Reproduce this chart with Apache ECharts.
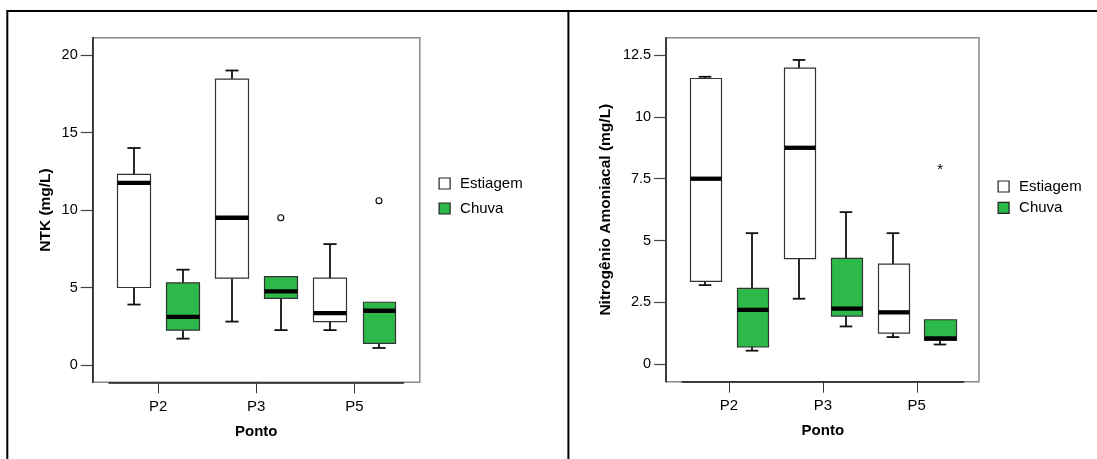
<!DOCTYPE html>
<html>
<head>
<meta charset="utf-8">
<script src="https://cdn.jsdelivr.net/npm/echarts@6/dist/echarts.min.js"></script>
<style>
html,body{margin:0;padding:0;background:#fff;}
#c{width:1097px;height:459px;}
</style>
</head>
<body>
<div id="c"></div>
<script>
// ---------------- data ----------------
const categories = ['P2', 'P3', 'P5'];
const seriesNames = ['Estiagem', 'Chuva'];
// each item: [min, Q1, median, Q3, max]
const ntkEstiagem = [[3.9, 5.0, 11.75, 12.3, 14.0], [2.8, 5.6, 9.5, 18.45, 19.0], [2.25, 2.8, 3.35, 5.6, 7.8]];
const ntkChuva = [[1.7, 2.25, 3.1, 5.3, 6.15], [2.25, 4.3, 4.75, 5.7, 5.7], [1.1, 1.4, 3.5, 4.05, 4.05]];
// outliers: [category index, value]
const ntkChuvaOutliers = [[1, 9.5], [2, 10.6]];
const amEstiagem = [[3.2, 3.35, 7.5, 11.55, 11.62], [2.65, 4.27, 8.75, 11.97, 12.3], [1.1, 1.26, 2.1, 4.05, 5.3]];
const amChuva = [[0.55, 0.7, 2.2, 3.07, 5.3], [1.53, 1.95, 2.25, 4.28, 6.15], [0.8, 0.97, 1.05, 1.8, 1.8]];
const amChuvaExtremes = [[2, 8.0]];
const ntkTicks = [0, 5, 10, 15, 20];
const amTicks = [0, 2.5, 5, 7.5, 10, 12.5];
const ntkTitle = 'NTK (mg/L)';
const amTitle = 'Nitrogênio Amoniacal (mg/L)';
const xTitle = 'Ponto';

// ---------------- style ----------------
const FONT = "'Liberation Sans', Arial, Helvetica, sans-serif";
const GREEN = '#2db84a';
const fills = ['#ffffff', GREEN];

function withIndex(arr) { return arr.map((d, i) => [i].concat(d)); }

function boxRenderer(side, fill) {
  return function (params, api) {
    const xi = api.value(0);
    const band = api.size([1, 0])[0];
    const cx = api.coord([xi, 0])[0] + side * 0.25 * band;
    const bw = 0.335 * band, cw = 0.4 * bw;
    const py = k => api.coord([xi, api.value(k)])[1];
    const yMin = py(1), yQ1 = py(2), yMed = py(3), yQ3 = py(4), yMax = py(5);
    const L = Math.round(cx - bw / 2) + 0.5, R = Math.round(cx + bw / 2) + 0.5;
    const X = Math.round(cx);
    const ws = { stroke: '#111', lineWidth: 1.8 };
    const ch = [];
    if (yMax < yQ3 - 0.5) {
      ch.push({ type: 'line', shape: { x1: X, y1: yMax, x2: X, y2: yQ3 }, style: ws });
      ch.push({ type: 'line', shape: { x1: X - cw / 2, y1: yMax, x2: X + cw / 2, y2: yMax }, style: ws });
    }
    if (yMin > yQ1 + 0.5) {
      ch.push({ type: 'line', shape: { x1: X, y1: yQ1, x2: X, y2: yMin }, style: ws });
      ch.push({ type: 'line', shape: { x1: X - cw / 2, y1: yMin, x2: X + cw / 2, y2: yMin }, style: ws });
    }
    ch.push({ type: 'rect', shape: { x: L, y: yQ3, width: R - L, height: yQ1 - yQ3 },
      style: { fill: fill, stroke: '#333', lineWidth: 1.2 } });
    ch.push({ type: 'line', shape: { x1: L, y1: yMed, x2: R, y2: yMed }, style: { stroke: '#000', lineWidth: 4.3 } });
    return { type: 'group', children: ch };
  };
}

function outlierRenderer(side, kind) {
  return function (params, api) {
    const xi = api.value(0);
    const band = api.size([1, 0])[0];
    const p = api.coord([xi, api.value(1)]);
    const cx = p[0] + side * 0.25 * band;
    if (kind === 'circle') {
      return { type: 'circle', shape: { cx: cx, cy: p[1], r: 3 }, style: { fill: '#fff', stroke: '#000', lineWidth: 1.1 } };
    }
    return { type: 'text', x: cx, y: p[1] + 4,
      style: { text: '*', fontSize: 15, fontFamily: FONT, fill: '#000', align: 'center', verticalAlign: 'middle' } };
  };
}

// layout of the two panels
const panels = [
  { frame: { left: 92.7, top: 37.7, width: 327.1, height: 344.6 },
    data: { left: 109, top: 55, width: 294.5, height: 310 },
    ticks: ntkTicks, title: ntkTitle, nameGap: 39,
    est: ntkEstiagem, chu: ntkChuva, out: ntkChuvaOutliers, outKind: 'circle' },
  { frame: { left: 666.1, top: 37.7, width: 312.9, height: 344 },
    data: { left: 682, top: 55, width: 281.7, height: 309.3 },
    ticks: amTicks, title: amTitle, nameGap: 52,
    est: amEstiagem, chu: amChuva, out: amChuvaExtremes, outKind: 'star' }
];

const grid = [], xAxis = [], yAxis = [], series = [];
panels.forEach((p, k) => {
  const fg = grid.length;
  grid.push(Object.assign({ show: true, borderColor: '#8a8a8a', borderWidth: 1.5, backgroundColor: '#fff' }, p.frame));
  xAxis.push({ gridIndex: fg, type: 'value', min: 0, max: 1, show: false });
  yAxis.push({ gridIndex: fg, type: 'value', min: 0, max: 1,
    axisLine: { show: true, onZero: false, lineStyle: { color: '#1a1a1a', width: 1.5 } },
    axisTick: { show: false }, axisLabel: { show: false }, splitLine: { show: false } });
  const dg = grid.length;
  grid.push(Object.assign({ show: false }, p.data));
  const tmin = p.ticks[0], tmax = p.ticks[p.ticks.length - 1], tint = p.ticks[1] - p.ticks[0];
  xAxis.push({ gridIndex: dg, type: 'category', data: categories, offset: p.frame.top + p.frame.height - p.data.top - p.data.height,
    axisLine: { show: true, onZero: false, lineStyle: { color: '#1a1a1a', width: 1.5 } },
    axisTick: { show: true, alignWithLabel: true, length: 11, lineStyle: { color: '#333', width: 1 } },
    axisLabel: { margin: 17, fontSize: 15, fontFamily: FONT, color: '#000' },
    splitLine: { show: false },
    name: xTitle, nameLocation: 'middle', nameGap: 42,
    nameTextStyle: { fontSize: 15, fontWeight: 'bold', fontFamily: FONT, color: '#000' } });
  yAxis.push({ gridIndex: dg, type: 'value', min: tmin, max: tmax, interval: tint,
    offset: p.data.left - p.frame.left,
    axisLine: { show: false, onZero: false },
    axisTick: { show: true, length: 12, lineStyle: { color: '#444', width: 1.2 } },
    axisLabel: { margin: 15, fontSize: 14.5, fontFamily: FONT, color: '#000' },
    splitLine: { show: false },
    name: p.title, nameLocation: 'middle', nameGap: p.nameGap,
    nameTextStyle: { fontSize: 15.5, fontWeight: 'bold', fontFamily: FONT, color: '#000' } });
  [p.est, p.chu].forEach((d, s) => {
    series.push({ type: 'custom', name: seriesNames[s], xAxisIndex: dg, yAxisIndex: dg,
      itemStyle: { color: fills[s] },
      renderItem: boxRenderer(s === 0 ? -1 : 1, fills[s]),
      encode: { x: 0, y: [1, 2, 3, 4, 5] },
      data: withIndex(d) });
  });
  series.push({ type: 'custom', name: 'Chuva outliers ' + k, xAxisIndex: dg, yAxisIndex: dg,
    renderItem: outlierRenderer(1, p.outKind), encode: { x: 0, y: 1 }, data: p.out });
});

function legendAt(left, top, gap) {
  return { left: left, top: top, orient: 'vertical', padding: 0, itemWidth: 11, itemHeight: 11, itemGap: gap,
    icon: 'rect', selectedMode: false,
    textStyle: { fontSize: 15, fontFamily: FONT, color: '#000', padding: [0, 0, 0, 5] },
    data: [
      { name: seriesNames[0], itemStyle: { color: fills[0], borderColor: '#222', borderWidth: 1.2 } },
      { name: seriesNames[1], itemStyle: { color: fills[1], borderColor: '#222', borderWidth: 1.2 } }
    ] };
}

const frameLine = { stroke: '#000', lineWidth: 2 };
const option = {
  animation: false,
  backgroundColor: '#fff',
  grid: grid, xAxis: xAxis, yAxis: yAxis, series: series,
  legend: [legendAt(438.5, 176, 10), legendAt(997.5, 179, 6.3)],
  graphic: [
    { type: 'line', shape: { x1: 7, y1: 11, x2: 1097, y2: 11 }, style: frameLine },
    { type: 'line', shape: { x1: 7.3, y1: 10, x2: 7.3, y2: 459 }, style: frameLine },
    { type: 'line', shape: { x1: 568.4, y1: 10, x2: 568.4, y2: 459 }, style: frameLine }
  ]
};
const chart = echarts.init(document.getElementById('c'), null, { renderer: 'canvas' });
chart.setOption(option);
</script>
</body>
</html>
